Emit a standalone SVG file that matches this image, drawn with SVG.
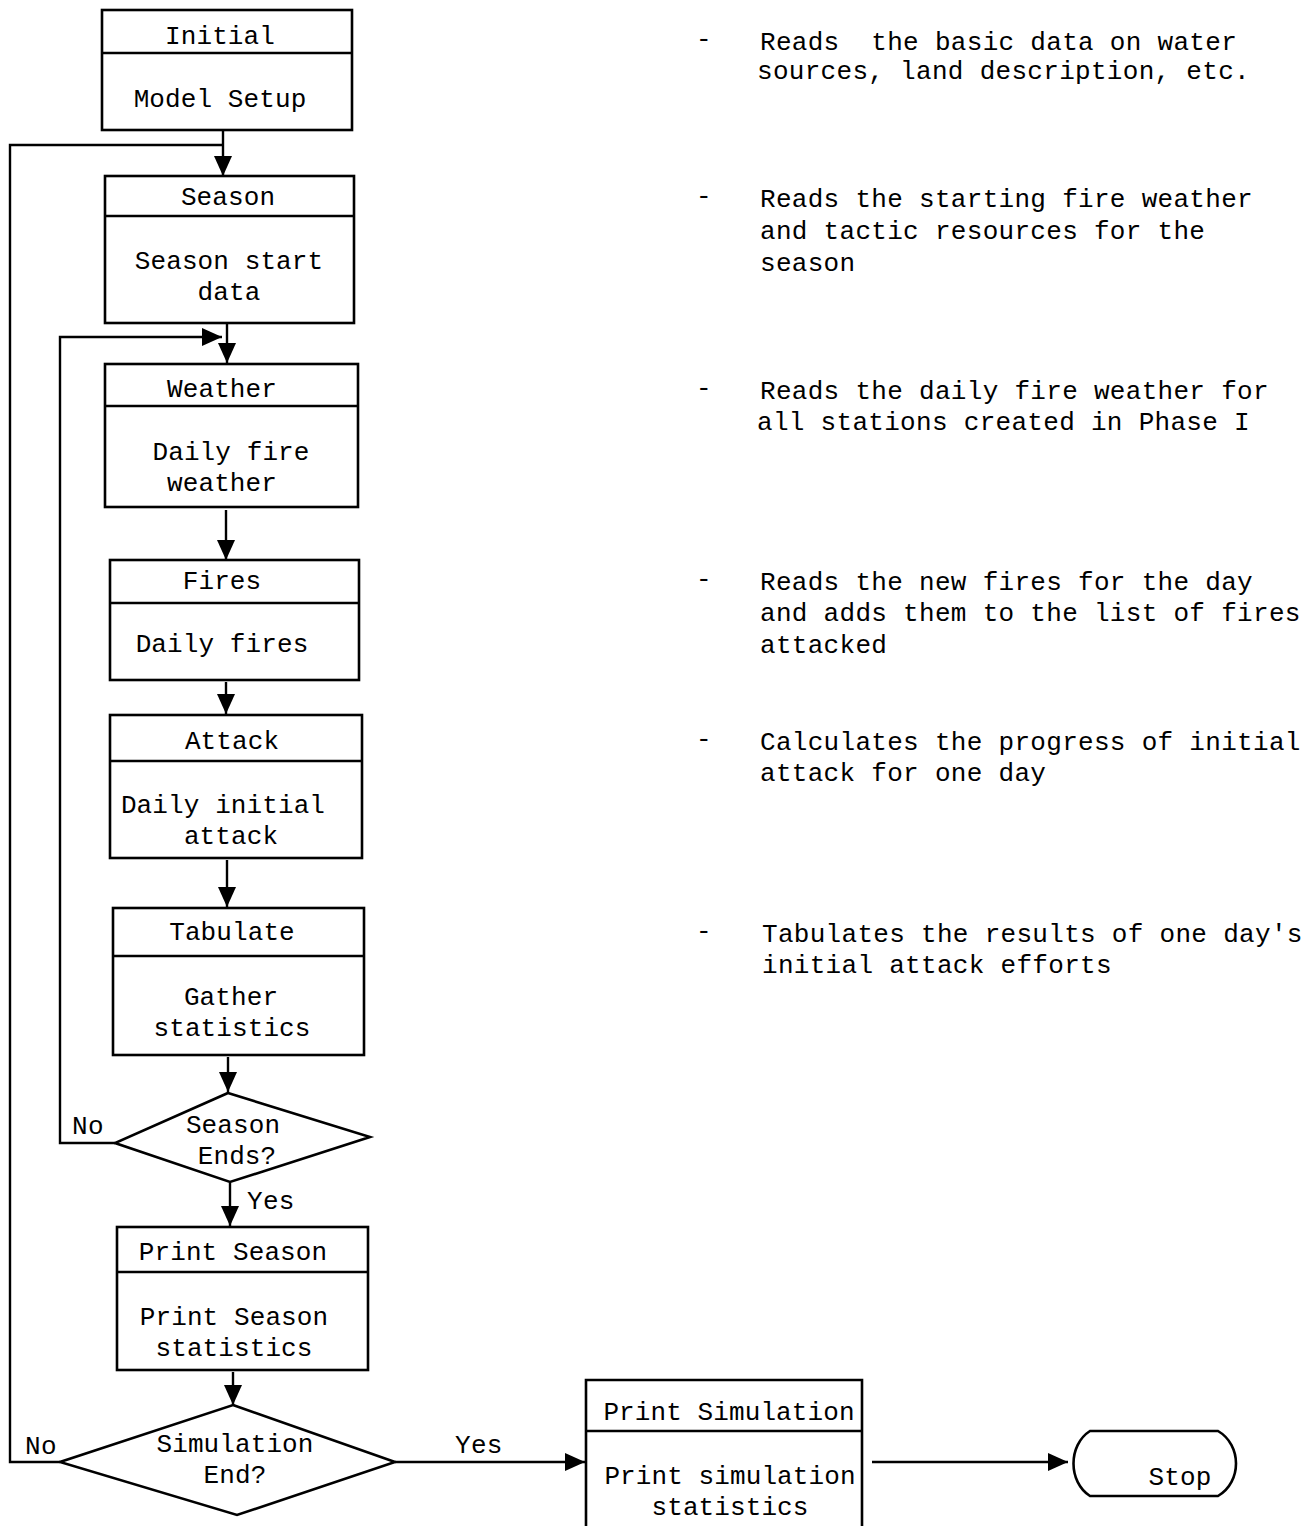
<svg xmlns="http://www.w3.org/2000/svg" width="1315" height="1526" viewBox="0 0 1315 1526">
<defs>
<style>
.b{fill:none;stroke:#000;stroke-width:2.6}
.c{fill:none;stroke:#000;stroke-width:2.4}
.t{font-family:"Liberation Mono","DejaVu Sans Mono",monospace;font-size:26px;letter-spacing:0.1px;fill:#000;text-anchor:middle}
.n{font-family:"Liberation Mono","DejaVu Sans Mono",monospace;font-size:26px;letter-spacing:0.3px;fill:#000}
</style>
<marker id="ah" markerUnits="userSpaceOnUse" markerWidth="20" markerHeight="20" viewBox="0 0 20 20" refX="20" refY="10" orient="auto">
<path d="M0,1 L20,10 L0,19 Z" fill="#000"/>
</marker>
</defs>
<rect width="1315" height="1526" fill="#fff"/>

<g id="connectors">
<path class="c" d="M223,130 V176" marker-end="url(#ah)"/>
<path class="c" d="M60,1462 H10 V145 H223"/>
<path class="c" d="M227,323 V363" marker-end="url(#ah)"/>
<path class="c" d="M115,1143 H60 V337 H222" marker-end="url(#ah)"/>
<path class="c" d="M226,510 V560" marker-end="url(#ah)"/>
<path class="c" d="M226,682 V714" marker-end="url(#ah)"/>
<path class="c" d="M227,860 V907" marker-end="url(#ah)"/>
<path class="c" d="M228,1057 V1092" marker-end="url(#ah)"/>
<path class="c" d="M230,1183 V1226" marker-end="url(#ah)"/>
<path class="c" d="M233,1372 V1405" marker-end="url(#ah)"/>
<path class="c" d="M395,1462 H585" marker-end="url(#ah)"/>
<path class="c" d="M872,1462 H1068" marker-end="url(#ah)"/>
<text class="n" x="72" y="1134">No</text>
<text class="n" x="247" y="1209">Yes</text>
<text class="n" x="25" y="1454">No</text>
<text class="n" x="455" y="1453">Yes</text>
</g>

<g id="initial">
<rect class="b" x="102" y="10" width="250" height="120"/>
<line class="b" x1="102" y1="53" x2="352" y2="53"/>
<text class="t" x="220" y="44">Initial</text>
<text class="t" x="220" y="107">Model Setup</text>
</g>

<g id="season">
<rect class="b" x="105" y="176" width="249" height="147"/>
<line class="b" x1="105" y1="216" x2="354" y2="216"/>
<text class="t" x="228" y="205">Season</text>
<text class="t" x="229" y="269">Season start</text>
<text class="t" x="229" y="300">data</text>
</g>

<g id="weather">
<rect class="b" x="105" y="364" width="253" height="143"/>
<line class="b" x1="105" y1="406" x2="358" y2="406"/>
<text class="t" x="222" y="397">Weather</text>
<text class="t" x="231" y="460">Daily fire</text>
<text class="t" x="222" y="491">weather</text>
</g>

<g id="fires">
<rect class="b" x="110" y="560" width="249" height="120"/>
<line class="b" x1="110" y1="603" x2="359" y2="603"/>
<text class="t" x="222" y="589">Fires</text>
<text class="t" x="222" y="652">Daily fires</text>
</g>

<g id="attack">
<rect class="b" x="110" y="715" width="252" height="143"/>
<line class="b" x1="110" y1="761" x2="362" y2="761"/>
<text class="t" x="232" y="749">Attack</text>
<text class="t" x="223" y="813">Daily initial</text>
<text class="t" x="231" y="844">attack</text>
</g>

<g id="tabulate">
<rect class="b" x="113" y="908" width="251" height="147"/>
<line class="b" x1="113" y1="956" x2="364" y2="956"/>
<text class="t" x="232" y="940">Tabulate</text>
<text class="t" x="231" y="1005">Gather</text>
<text class="t" x="232" y="1036">statistics</text>
</g>

<g id="season-ends">
<path class="b" d="M228,1093 L370,1137 L230,1182 L115,1143 Z"/>
<text class="t" x="233" y="1133">Season</text>
<text class="t" x="237" y="1164">Ends?</text>
</g>

<g id="print-season">
<rect class="b" x="117" y="1227" width="251" height="143"/>
<line class="b" x1="117" y1="1272" x2="368" y2="1272"/>
<text class="t" x="233" y="1260">Print Season</text>
<text class="t" x="234" y="1325">Print Season</text>
<text class="t" x="234" y="1356">statistics</text>
</g>

<g id="simulation-end">
<path class="b" d="M233,1405 L395,1462 L237,1515 L60,1462 Z"/>
<text class="t" x="235" y="1452">Simulation</text>
<text class="t" x="235" y="1483">End?</text>
</g>

<g id="print-simulation">
<path class="b" d="M586,1540 V1380 H862 V1540"/>
<line class="b" x1="586" y1="1431" x2="862" y2="1431"/>
<text class="t" x="729" y="1420">Print Simulation</text>
<text class="t" x="730" y="1484">Print simulation</text>
<text class="t" x="730" y="1515">statistics</text>
</g>

<g id="stop">
<path class="b" d="M1090,1431 H1218 C1242,1445 1242,1482 1218,1496 H1090 C1068,1482 1068,1445 1090,1431 Z"/>
<text class="t" x="1180" y="1485">Stop</text>
</g>

<g id="notes">
<text class="n" x="696" y="47">-</text>
<text class="n" x="760" y="50" xml:space="preserve">Reads  the basic data on water</text>
<text class="n" x="757" y="79">sources, land description, etc.</text>
<text class="n" x="696" y="204">-</text>
<text class="n" x="760" y="207">Reads the starting fire weather</text>
<text class="n" x="760" y="239">and tactic resources for the</text>
<text class="n" x="760" y="271">season</text>
<text class="n" x="696" y="396">-</text>
<text class="n" x="760" y="399">Reads the daily fire weather for</text>
<text class="n" x="757" y="430">all stations created in Phase I</text>
<text class="n" x="696" y="587">-</text>
<text class="n" x="760" y="590">Reads the new fires for the day</text>
<text class="n" x="760" y="621">and adds them to the list of fires</text>
<text class="n" x="760" y="653">attacked</text>
<text class="n" x="696" y="747">-</text>
<text class="n" x="760" y="750">Calculates the progress of initial</text>
<text class="n" x="760" y="781">attack for one day</text>
<text class="n" x="696" y="939">-</text>
<text class="n" x="762" y="942">Tabulates the results of one day's</text>
<text class="n" x="762" y="973">initial attack efforts</text>
</g>
</svg>
